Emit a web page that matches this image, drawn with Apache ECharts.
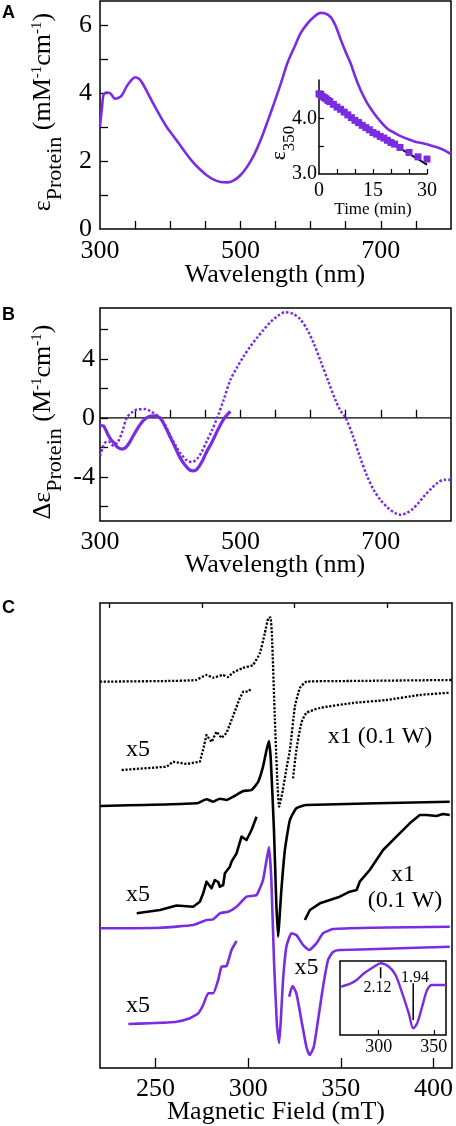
<!DOCTYPE html>
<html><head><meta charset="utf-8">
<script src="https://cdn.jsdelivr.net/npm/echarts@6/dist/echarts.min.js"></script>
<style>html,body{margin:0;padding:0;background:#fff}#c{width:456px;height:1126px}</style>
</head><body><div id="c"></div>
<script>
const PURPLE = '#7a2de0';
const SERIF = "'Liberation Serif', 'Times New Roman', serif";
const F = px => px + "px 'Liberation Serif', 'Times New Roman', serif";

// ---------- Panel A: absorbance ----------
const absWl  = [300,303,305,309,314,318,321,326,331,338,345,350,355,360,367,375,386,395,405,415,424,433,443,452,462,472,481,490,500,510,520,529,538,548,558,567,577,586,596,605,614,620,629,636,643,650,657,664,671,680,690,700,710,720,729,740,750,760,767,780,790,800];
const absEps = [3.01,3.6,3.94,4.01,4.0,3.9,3.83,3.85,3.92,4.19,4.38,4.46,4.42,4.3,4.04,3.72,3.31,3.0,2.72,2.44,2.18,1.95,1.74,1.58,1.45,1.38,1.37,1.42,1.58,1.84,2.2,2.62,3.12,3.7,4.3,4.88,5.35,5.76,6.05,6.24,6.35,6.34,6.22,5.95,5.56,5.2,4.87,4.45,4.09,3.72,3.41,3.15,2.94,2.82,2.72,2.63,2.56,2.52,2.48,2.4,2.32,2.2];
const aXTicks = [350,400,450,500,550,600,650,700,750];
const aXLabels = [300,500,700];
const aYTicks = [1,2,3,4,5,6];
const aYLabels = [0,2,4,6];

// inset A: kinetics at 350 nm
const kinT   = [0,0.5,1,1.5,2,2.5,3,4,5,6,7,8,9,10,11,12,13,14,15,16,17,18,19,20,21,22.5,25,27.5,30];
const kinEps = [4.45,4.43,4.40,4.38,4.36,4.33,4.31,4.26,4.21,4.17,4.12,4.07,4.02,3.97,3.93,3.88,3.84,3.80,3.75,3.72,3.68,3.65,3.61,3.57,3.54,3.48,3.39,3.31,3.27];
const fitT   = [0,5,10,15,20,25,30];
const fitEps = [4.46,4.21,3.98,3.76,3.56,3.37,3.17];
const insAXTicks = [5,10,15,20,25,30];
const insAXLabels = [0,15,30];
const insAYTicks = [3.5,4.0,4.5];
const insAYLabels = [3.0,4.0];

// ---------- Panel B: CD ----------
const cdSolidWl  = [300,305,308,312,316,320,325,331,337,343,350,358,365,372,379,386,393,400,407,414,421,428,433,438,445,452,460,468,476,485.7];
const cdSolidVal = [-0.52,-0.55,-0.8,-1.2,-1.5,-1.7,-2.0,-2.12,-2.0,-1.6,-1.0,-0.4,-0.05,0.12,0.14,-0.05,-0.6,-1.3,-2.0,-2.7,-3.2,-3.55,-3.6,-3.5,-3.0,-2.3,-1.6,-0.8,-0.1,0.43];
const cdDotWl  = [300,304,307,312,319,326,332,338,345,352,364,372,380,386,393,400,408,416,424,430.5,438,445,452,460,467,476,486,495,505,514,524,533,543,553,564,575,585,595,605,615,625,635,643,650,660,670,680,690,700,710,720,729,737,745,755,762,772,781,790,800];
const cdDotVal = [-2.6,-2.0,-1.7,-1.6,-1.9,-1.6,-0.9,0.0,0.35,0.55,0.59,0.45,0.2,0,-0.5,-1.2,-1.9,-2.5,-2.9,-3.0,-2.8,-2.3,-1.6,-0.8,0,1.2,2.6,3.4,4.2,4.83,5.45,5.97,6.5,6.9,7.17,7.05,6.7,6.0,5.0,3.75,2.5,1.25,0.45,0,-1.2,-2.6,-3.9,-4.9,-5.6,-6.1,-6.45,-6.58,-6.45,-6.2,-5.7,-5.3,-4.8,-4.4,-4.2,-4.2];
const zeroWl = [300,800];
const zeroVal = [0,0];
const bYTicks = [-6,-4,-2,0,2,4,6];
const bYLabels = [-4,0,4];

// ---------- Panel C: EPR (arbitrary offsets) ----------
const e1Field = [220,256,271.8,277.5,281,286.3,289,291.7,297.1,302.5,306.3,309,310.8,312,312.8,314.4,315.7,316.7,318.7,320.5,322.5,325.2,327.9,331.5,354.8,409.9];
const e1Int   = [386.3,387,388,393,390.3,393,391,395.3,400,403,415,435,449.7,450.7,433,348,288,261.3,278,298,318,361.3,380,386.3,387,388];
const e1x5Field = [231.7,256,259.4,266.7,273.9,275.6,277.5,280.2,282.9,285.6,288.3,291.7,295.5,297.3,300,301.8];
const e1x5Int   = [298,301.3,306.3,304,306.3,318,333,326,336.3,330,335,351.3,370,376.3,376.3,379.7];
const e1x1Field = [324.2,326.0,328.7,331.4,338.7,356.5,374.6,392.6,408.8];
const e1x1Int   = [289.7,318,345,355,360,365,368,373,375.3];

const e2Field = [220,272.2,277.5,281.1,284.7,288.3,291.9,297.3,301.8,305.4,308,309.9,311.2,312.2,313.9,315.1,316.1,317.9,319.8,322.5,326.0,331.4,408.8];
const e2Int   = [262,264.7,268.7,266.3,269.3,268,271.3,277,278,286.3,301.3,318,327,308,238,168,131.3,178,218,248,259.7,263,266.3];
const e2x5Field = [239.8,252.4,261.3,270.3,273.9,275.7,277.5,280.2,282,283.8,284.7,286.5,287.4,290.1,291,293.7,296.4,299.1,301.8,304.5];
const e2x5Int   = [154.7,158,162.5,161.3,166.3,174.7,186.3,179.7,188,186,181.3,183,194.7,201.3,206.3,214.7,231.3,228,238,251.3];
const e2x1Field = [330.6,333.3,338.7,344.1,349.4,354.8,358.5,360.2,365.6,372.8,380,387.2,392.6,396.2,401.6,405.1,408.8];
const e2x1Int   = [148,158,164.7,168,171.3,176.3,178,186.3,198,218,231.3,244.7,253,253,252,254,253];

const e3Field = [220,252.4,270.3,277.5,281.1,284.7,289.2,293.7,299.1,304.5,308,309.9,311.2,312.5,313.9,315.5,316.7,317.6,318.8,320.6,323.3,326.0,329.6,332.8,336.8,340.4,345.8,365.6,408.8];
const e3Int   = [139.7,140.3,143,148,148.7,154.7,156.3,161.3,171.3,173,188,208,221,188,108,43,25,48,88,121.3,134.7,133,123,118,124.7,134.7,139,140.3,141.3];
const e3x5Field = [235.3,247,261.3,268.5,273,275.7,278.4,281.1,283.8,285.6,288.3,291,293.7];
const e3x5Int   = [44,44.7,46.3,49.7,54.7,63,74.7,74.7,88,101.3,102,118,127];
const e3x5rField = [322.1,323.9,326,328.7,331.4,333.2,335.4,337.7,340.4,343.1,345.8,349.4,365.6,408.8];
const e3x5rInt   = [71.3,82,74.7,48,21.3,13,21.3,48,81.3,108,116,118,118.7,121.3];
const cXTicks = [250,300,350,400];
const cXMinorTicks = [225,275,325,375];
const cXLabels = [250,300,350,400];

// inset C
const insCField = [265.8,274.8,280,286.8,295.8,301.8,309.3,315.3,321.4,327.3,331.3,334.9,339.4,343.9,348.4,361.3];
const insCInt   = [48.3,51.7,55,61.7,68.3,71.7,68.3,60,41.7,21.7,6.7,11.7,28.3,45,50,50];
const insCTicks = [300,350];
const insCLabels = [300,350];
const gMark1Field = [301.8,301.8];
const gMark1Int   = [67.7,56.7];
const gMark2Field = [331.3,331.3];
const gMark2Int   = [51.7,15];

const zip = (xs, ys) => xs.map((x, i) => [x, ys[i]]);

function lineS(xi, yi, xs, ys, color, width, type, smooth) {
  return {type:'line', xAxisIndex:xi, yAxisIndex:yi, data:zip(xs, ys), showSymbol:false, symbol:'none',
    smooth: smooth || false, lineStyle:{color, width, type: type || 'solid', cap:'butt', join:'round', opacity:1}, silent:true, z:3};
}

const blk = '#000';
const tickLbl = (vals, size, margin, extra) => Object.assign({show:true, customValues: vals, color:blk, fontFamily:SERIF, fontSize:size, margin}, extra || {});
const txt = (x, y, text, size, extra) => Object.assign({type:'text', x, y, z:10, style:{text, font:F(size), fill:blk, align:'center', verticalAlign:'middle'}}, extra || {});

const chart = echarts.init(document.getElementById('c'), null, {renderer:'canvas'});
const option = {
  animation:false,
  backgroundColor:'#fff',
  grid:[
    {left:100, top:1, width:351, height:228, show:true, borderColor:blk, borderWidth:1.5},
    {left:319, top:80, width:108, height:94, show:false},
    {left:100, top:308, width:351, height:213, show:true, borderColor:blk, borderWidth:1.5},
    {left:100, top:603, width:352, height:465, show:true, borderColor:blk, borderWidth:1.5},
    {left:340, top:961, width:106, height:74, show:true, borderColor:blk, borderWidth:1.5, backgroundColor:'#fff'}
  ],
  xAxis:[
    {gridIndex:0, type:'value', min:300, max:800, axisLine:{show:false}, splitLine:{show:false},
      axisTick:{show:true, inside:true, length:8, customValues:aXTicks, lineStyle:{color:blk, width:1.3}},
      axisLabel: tickLbl(aXLabels, 26, 22, {verticalAlign:'middle'})},
    {gridIndex:1, type:'value', min:0, max:30, axisLine:{show:true, onZero:false, lineStyle:{color:blk, width:1.5}}, splitLine:{show:false},
      axisTick:{show:true, inside:true, length:5, customValues:insAXTicks, lineStyle:{color:blk, width:1.2}},
      axisLabel: tickLbl(insAXLabels, 20, 17, {verticalAlign:'middle'})},
    {gridIndex:2, type:'value', min:300, max:800, axisLine:{show:false}, splitLine:{show:false},
      axisTick:{show:true, inside:true, length:8, customValues:aXTicks, lineStyle:{color:blk, width:1.3}},
      axisLabel: tickLbl(aXLabels, 26, 21, {verticalAlign:'middle'})},
    {gridIndex:3, type:'value', min:220, max:410, axisLine:{show:false}, splitLine:{show:false},
      axisTick:{show:true, inside:true, length:10, customValues:cXTicks, lineStyle:{color:blk, width:1.3}},
      axisLabel: tickLbl(cXLabels, 26, 21, {verticalAlign:'middle'})},
    {gridIndex:3, type:'value', min:220, max:410, axisLine:{show:false}, splitLine:{show:false},
      axisTick:{show:true, inside:true, length:5, customValues:cXMinorTicks, lineStyle:{color:blk, width:1.3}},
      axisLabel:{show:false}},
    {gridIndex:4, type:'value', min:265, max:361, axisLine:{show:false}, splitLine:{show:false},
      axisTick:{show:true, inside:true, length:5, customValues:insCTicks, lineStyle:{color:blk, width:1.2}},
      axisLabel: tickLbl(insCLabels, 18, 12, {verticalAlign:'middle'})}
  ],
  yAxis:[
    {gridIndex:0, type:'value', min:0, max:6.7, axisLine:{show:false}, splitLine:{show:false},
      axisTick:{show:true, inside:true, length:8, customValues:aYTicks, lineStyle:{color:blk, width:1.3}},
      axisLabel: tickLbl(aYLabels, 26, 8)},
    {gridIndex:1, type:'value', min:3.0, max:4.7, axisLine:{show:true, onZero:false, lineStyle:{color:blk, width:1.5}}, splitLine:{show:false},
      axisTick:{show:true, inside:true, length:5, customValues:insAYTicks, lineStyle:{color:blk, width:1.2}},
      axisLabel: tickLbl(insAYLabels, 20, 2, {formatter: v => Number(v).toFixed(1)})},
    {gridIndex:2, type:'value', min:-7, max:7.45, axisLine:{show:false}, splitLine:{show:false},
      axisTick:{show:true, inside:true, length:8, customValues:bYTicks, lineStyle:{color:blk, width:1.3}},
      axisLabel: tickLbl(bYLabels, 26, 5)},
    {gridIndex:3, type:'value', min:0, max:465, show:false},
    {gridIndex:4, type:'value', min:0, max:74, show:false}
  ],
  series:[
    lineS(0,0, absWl, absEps, PURPLE, 2.6, 'solid', 0.3),
    {type:'scatter', xAxisIndex:1, yAxisIndex:1, data:zip(kinT, kinEps), symbol:'rect', symbolSize:7,
      itemStyle:{color:PURPLE, opacity:1}, silent:true, z:3},
    lineS(1,1, fitT, fitEps, blk, 2, 'solid', 0.3),
    lineS(2,2, zeroWl, zeroVal, blk, 1.3),
    lineS(2,2, cdDotWl, cdDotVal, PURPLE, 2.5, [2.5,2], 0.3),
    lineS(2,2, cdSolidWl, cdSolidVal, PURPLE, 3.2, 'solid', 0.3),
    lineS(3,3, e1Field, e1Int, blk, 2.3, [2.2,1.6], 0.15),
    lineS(3,3, e1x5Field, e1x5Int, blk, 2.3, [2.2,1.6]),
    lineS(3,3, e1x1Field, e1x1Int, blk, 2.3, [2.2,1.6], 0.2),
    lineS(3,3, e2Field, e2Int, blk, 2.6, 'solid', 0.15),
    lineS(3,3, e2x5Field, e2x5Int, blk, 2.6),
    lineS(3,3, e2x1Field, e2x1Int, blk, 2.6),
    lineS(3,3, e3Field, e3Int, PURPLE, 2.6, 'solid', 0.15),
    lineS(3,3, e3x5Field, e3x5Int, PURPLE, 2.6, 'solid', 0.15),
    lineS(3,3, e3x5rField, e3x5rInt, PURPLE, 2.6, 'solid', 0.2),
    Object.assign(lineS(5,4, insCField, insCInt, PURPLE, 2.4, 'solid', 0.3), {z:5}),
    Object.assign(lineS(5,4, gMark1Field, gMark1Int, blk, 1.5), {z:5}),
    Object.assign(lineS(5,4, gMark2Field, gMark2Int, blk, 1.5), {z:5})
  ],
  graphic:[
    {type:'text', x:8.5, y:13.5, style:{text:'A', font:"bold 18px 'Liberation Sans', sans-serif", fill:blk, align:'center', verticalAlign:'middle'}},
    {type:'text', x:8.5, y:315, style:{text:'B', font:"bold 18px 'Liberation Sans', sans-serif", fill:blk, align:'center', verticalAlign:'middle'}},
    {type:'text', x:8.5, y:608, style:{text:'C', font:"bold 18px 'Liberation Sans', sans-serif", fill:blk, align:'center', verticalAlign:'middle'}},
    {type:'text', x:48, y:112, rotation:Math.PI/2, style:{
      text:'{m|ε}{s|Protein}{m| (mM}{p|-1}{m|cm}{p|-1}{m|)}', align:'center', verticalAlign:'middle', fill:blk,
      rich:{m:{fontFamily:SERIF, fontSize:26, lineHeight:26, verticalAlign:'top', fill:blk},
            s:{fontFamily:SERIF, fontSize:22, lineHeight:36, verticalAlign:'bottom', fill:blk},
            p:{fontFamily:SERIF, fontSize:15, lineHeight:15, verticalAlign:'top', fill:blk}}}},
    txt(275, 275, 'Wavelength (nm)', 26),
    {type:'text', x:283, y:143, rotation:Math.PI/2, style:{
      text:'{m|ε}{s|350}', align:'center', verticalAlign:'middle', fill:blk,
      rich:{m:{fontFamily:SERIF, fontSize:22, lineHeight:22, verticalAlign:'top', fill:blk},
            s:{fontFamily:SERIF, fontSize:17, lineHeight:30, verticalAlign:'bottom', fill:blk}}}},
    txt(373, 209.5, 'Time (min)', 17),
    {type:'text', x:48, y:422, rotation:Math.PI/2, style:{
      text:'{m|Δε}{s|Protein}{m| (M}{p|-1}{m|cm}{p|-1}{m|)}', align:'center', verticalAlign:'middle', fill:blk,
      rich:{m:{fontFamily:SERIF, fontSize:26, lineHeight:26, verticalAlign:'top', fill:blk},
            s:{fontFamily:SERIF, fontSize:22, lineHeight:36, verticalAlign:'bottom', fill:blk},
            p:{fontFamily:SERIF, fontSize:15, lineHeight:15, verticalAlign:'top', fill:blk}}}},
    txt(275, 565, 'Wavelength (nm)', 26),
    txt(138, 750, 'x5', 24),
    txt(380, 737, 'x1 (0.1 W)', 24),
    txt(138, 895, 'x5', 24),
    txt(403, 875, 'x1', 24),
    txt(405, 901, '(0.1 W)', 24),
    txt(306.5, 968, 'x5', 24),
    txt(138, 1006, 'x5', 24),
    txt(377.5, 988, '2.12', 16),
    txt(415, 978, '1.94', 16),
    txt(276, 1112, 'Magnetic Field (mT)', 26)
  ]
};
chart.setOption(option);
</script>
</body></html>
